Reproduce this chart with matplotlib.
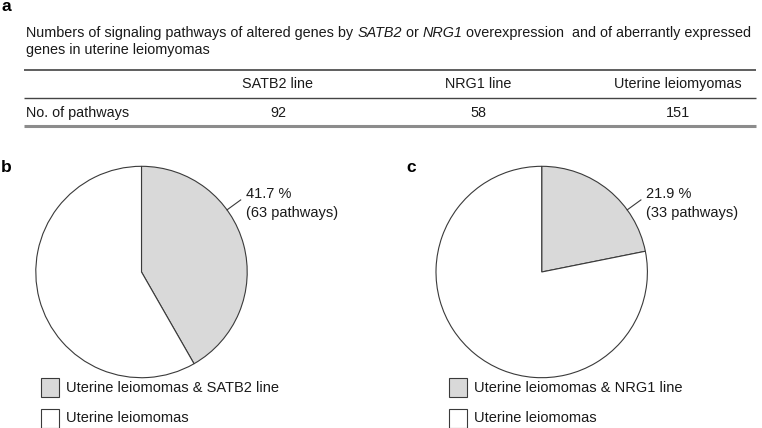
import matplotlib
matplotlib.use("Agg")
import numpy as np
import matplotlib.pyplot as plt
from matplotlib.patches import Rectangle

plt.rcParams['font.family'] = ['Liberation Sans', 'DejaVu Sans']

# table data
columns = ["SATB2 line", "NRG1 line", "Uterine leiomyomas"]
row_label = "No. of pathways"
pathways = [92, 58, 151]

# caption pieces (text, italic?)
caption = [("Numbers of signaling pathways of altered genes by ", False), ("SATB2", True),
           (" or ", False), ("NRG1", True),
           (" overexpression  and of aberrantly expressed", False)]
caption2 = "genes in uterine leiomyomas"

# pie data (overlap with uterine leiomyomas pathways, total 151)
overlap_satb2 = [63, 151 - 63]
overlap_nrg1 = [33, 151 - 33]
legend_satb2 = ["Uterine leiomomas & SATB2 line", "Uterine leiomomas"]
legend_nrg1 = ["Uterine leiomomas & NRG1 line", "Uterine leiomomas"]

W, H = 762, 428
TXT = '#1a1a1a'
GRAY = '#d9d9d9'
EDGE = '#3a3a3a'
FS = 10.4


def Y(y):
    # pixel row (from top) -> axis coordinate (from bottom)
    return H - y


fig = plt.figure(figsize=(W / 100, H / 100), dpi=100)
ax = fig.add_axes([0, 0, 1, 1])
ax.set_xlim(0, W)
ax.set_ylim(0, H)
ax.axis('off')
renderer = fig.canvas.get_renderer()

# panel a
ax.text(1, Y(6), "a", fontsize=12.5, fontweight='bold', va='center', ha='left', color='black')
x = 26
for piece, it in caption:
    t = ax.text(x, Y(33), piece, fontsize=FS, va='center', ha='left', color=TXT,
                style='italic' if it else 'normal')
    bb = t.get_window_extent(renderer=renderer)
    x += bb.width
ax.text(26, Y(50), caption2, fontsize=FS, va='center', ha='left', color=TXT)

ax.plot([24, 756], [Y(69.5), Y(69.5)], color='#333333', lw=1.1, solid_capstyle='butt')
ax.plot([24, 756], [Y(97.5), Y(97.5)], color='#444444', lw=1.0, solid_capstyle='butt')
ax.plot([24, 756], [Y(126), Y(126)], color='#8c8c8c', lw=2.2, solid_capstyle='butt')

col_x = [278, 478, 678]
for cx, name, val in zip(col_x, columns, pathways):
    ax.text(cx, Y(84), name, fontsize=FS, ha='center', va='center', color=TXT)
    ax.text(cx, Y(113), str(val), fontsize=FS, ha='center', va='center', color=TXT)
ax.text(26, Y(113), row_label, fontsize=FS, ha='left', va='center', color=TXT)


def draw_pie(cx, cy, r, values, labels, tag, tag_x, leg_x):
    wedges, _ = ax.pie(values, center=(cx, Y(cy)), radius=r, startangle=90,
                       counterclock=False, colors=[GRAY, 'white'],
                       wedgeprops=dict(edgecolor=EDGE, linewidth=0.8))
    ax.text(tag_x, Y(167), tag, fontsize=12.5, fontweight='bold', ha='left', va='center',
            color='black')
    # leader line and label
    pct = 100 * values[0] / sum(values)
    ang = np.deg2rad(36)
    x0, y0 = cx + r * np.cos(ang), Y(cy) + r * np.sin(ang)
    x1, y1 = cx + 1.16 * r * np.cos(ang), Y(cy) + 1.16 * r * np.sin(ang)
    ax.plot([x0, x1], [y0, y1], color=EDGE, lw=0.8)
    ax.text(x1 + 5, Y(194), "%.1f %%" % pct, fontsize=10.5, ha='left', va='center', color=TXT)
    ax.text(x1 + 5, Y(213), "(%d pathways)" % values[0], fontsize=10.5, ha='left',
            va='center', color=TXT)
    # legend
    for i, (w, lab) in enumerate(zip(wedges, labels)):
        top = 378 + i * 30.5
        ax.add_patch(Rectangle((leg_x, Y(top + 19)), 18, 19, facecolor=w.get_facecolor(),
                               edgecolor=EDGE, lw=0.8))
        ax.text(leg_x + 25, Y(top + 10), lab, fontsize=10.5, ha='left', va='center', color=TXT)


draw_pie(141.5, 272, 105.7, overlap_satb2, legend_satb2, "b", 1, 41)
draw_pie(541.7, 272, 105.7, overlap_nrg1, legend_nrg1, "c", 406, 449)

ax.set_xlim(0, W)
ax.set_ylim(0, H)
ax.set_aspect('auto')
ax.axis('off')

fig.savefig("out.png", dpi=100)
